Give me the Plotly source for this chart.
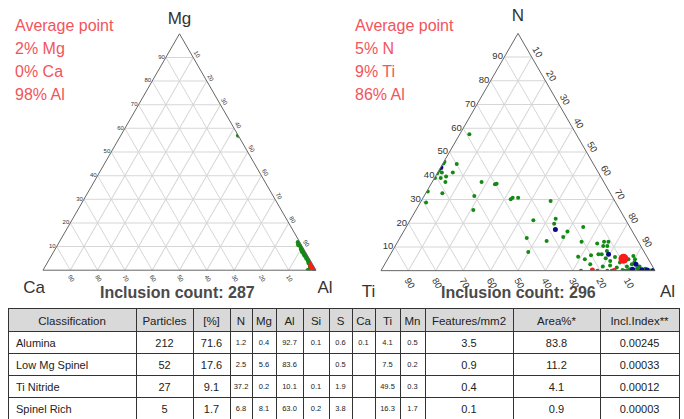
import plotly.graph_objects as go

# ---------------- data ----------------
# Left ternary: Mg (top) / Ca (bottom-left) / Al (bottom-right), in %
mg_green = [57, 12, 11.5, 11, 10.5, 10, 9.5, 9, 8.5, 8, 7.5, 7, 6.5, 6, 5.5, 5, 4.5, 4,
            3.5, 3, 2.5, 2, 1.5, 1, 0.5, 0, 0, 0, 0, 0.3, 11.8, 10.8, 9.2, 7.8, 6.2, 4.8, 3.2, 1.8]
ca_green = [0, 0, 0.5, 0.3, 0.8, 0.5, 0.2, 1, 0.5, 0.8, 0.3, 1, 0.5, 0.8, 0.4, 1, 0.6, 0.9,
            0.3, 1.2, 0.6, 1, 0.5, 1.5, 2, 3, 2.5, 2, 1, 0.2, 0.7, 1.1, 0.6, 1.2, 1.1, 0.4, 0.7, 1.3]
al_green = [100 - m - c for m, c in zip(mg_green, ca_green)]
mg_blue = [1, 0.5, 0, 1.5]
ca_blue = [0.5, 0.2, 0.5, 0.8]
al_blue = [100 - m - c for m, c in zip(mg_blue, ca_blue)]
avg1 = dict(Mg=2, Ca=0, Al=98)
count1 = 287

# Right ternary: N (top) / Ti (bottom-left) / Al (bottom-right), in %
n_green = [57.5, 45.9, 45.1, 44.9, 42.1, 41.4, 41.4, 41.0, 39.7, 39.0, 39.0, 37.4, 37.4, 36.4,
           36.6, 33.3, 32.6, 31.5, 30.1, 30.7, 30.7, 28.7, 29.4, 25.6, 21.2, 21.9, 19.8, 13.8,
           12.5, 7.9, 14.2, 16.5, 18.4, 12.2, 11.4, 12.2, 12.2, 10.4, 10.4, 6.9, 6.9, 6.5, 5.9,
           4.8, 2.7, 0, 0, 1.7, 5.2, 4.1, 5.8, 2.2, 0, 0, 1.7, 2.7, 4.8, 3.4, 1.7, 0.6, 0, 4.8,
           6.2, 3.4, 1.3, 8.3, 0.3, 0.2, 0.4, 0.1, 0.3, 0.5, 0.2, 0.1, 0.3, 0.4, 1.0, 0.8]
al_green_r = [3.5, 0.2, 0.2, 5.2, 0.1, 1.5, 5.5, 0.0, 3.9, 2.3, 0.2, 4.8, 18.0, 23.4, 23.9, 0.4,
              6.1, 18.3, 32.3, 32.7, 34.7, 2.1, 47.2, 20.9, 45.0, 52.8, 53.3, 46.3, 54.2, 49.8,
              59.4, 59.8, 64.6, 67.1, 73.2, 75.3, 76.9, 77.4, 75.9, 75.9, 77.1, 73.4, 69.0, 72.0,
              75.0, 73.0, 79.0, 80.1, 79.4, 81.6, 82.5, 82.5, 82.6, 84.2, 88.9, 90.2, 90.3, 90.8,
              93.5, 90.6, 89.0, 87.9, 89.0, 85.5, 85.4, 78.3, 88.0, 90.0, 92.0, 94.0, 95.5, 96.5,
              97.5, 98.5, 99.2, 91.0, 93.0, 96.0]
ti_green_r = [100 - n - a for n, a in zip(n_green, al_green_r)]
n_blue = [43.5, 17.3, 6.9, 2.7, 0.6, 0.3, 0.1, 0.4]
al_blue_r = [0.1, 55.0, 79.6, 91.7, 91.5, 97.0, 99.4, 95.0]
ti_blue_r = [100 - n - a for n, a in zip(n_blue, al_blue_r)]
n_red = [0.1, 0.3]
al_red = [85.0, 77.0]
ti_red = [100 - n - a for n, a in zip(n_red, al_red)]
avg2 = dict(N=5, Ti=9, Al=86)
count2 = 296

tick_vals = [10, 20, 30, 40, 50, 60, 70, 80, 90]

# Table
tbl_header = ["Classification", "Particles", "[%]", "N", "Mg", "Al", "Si", "S", "Ca", "Ti",
              "Mn", "Features/mm2", "Area%*", "Incl.Index**"]
classification = ["Alumina", "Low Mg Spinel", "Ti Nitride", "Spinel Rich"]
particles = ["212", "52", "27", "5"]
percent = ["71.6", "17.6", "9.1", "1.7"]
col_N = ["1.2", "2.5", "37.2", "6.8"]
col_Mg = ["0.4", "5.6", "0.2", "8.1"]
col_Al = ["92.7", "83.6", "10.1", "63.0"]
col_Si = ["0.1", "", "0.1", "0.2"]
col_S = ["0.6", "0.5", "1.9", "3.8"]
col_Ca = ["0.1", "", "", ""]
col_Ti = ["4.1", "7.5", "49.5", "16.3"]
col_Mn = ["0.5", "0.2", "0.3", "1.7"]
features = ["3.5", "0.9", "0.4", "0.1"]
area = ["83.8", "11.2", "4.1", "0.9"]
incl_index = ["0.00245", "0.00033", "0.00012", "0.00003"]

# ---------------- figure ----------------
W, H = 684, 419
GREEN = "#138a13"
BLUE = "#0a0a8c"
RED = "#ff1a1a"
TXT_RED = "#f2545b"

fig = go.Figure()

# Left ternary
fig.add_trace(go.Scatterternary(a=mg_green, b=ca_green, c=al_green, mode="markers",
                                marker=dict(color=GREEN, size=4.5), subplot="ternary",
                                showlegend=False, hoverinfo="skip"))
fig.add_trace(go.Scatterternary(a=mg_blue, b=ca_blue, c=al_blue, mode="markers",
                                marker=dict(color=BLUE, size=5), subplot="ternary",
                                showlegend=False, hoverinfo="skip"))
fig.add_trace(go.Scatterternary(a=[avg1["Mg"]], b=[avg1["Ca"]], c=[avg1["Al"]], mode="markers",
                                marker=dict(color=RED, size=10), subplot="ternary",
                                showlegend=False, hoverinfo="skip"))

# Right ternary
fig.add_trace(go.Scatterternary(a=n_green, b=ti_green_r, c=al_green_r, mode="markers",
                                marker=dict(color=GREEN, size=4), subplot="ternary2",
                                showlegend=False, hoverinfo="skip"))
fig.add_trace(go.Scatterternary(a=n_blue, b=ti_blue_r, c=al_blue_r, mode="markers",
                                marker=dict(color=BLUE, size=5), subplot="ternary2",
                                showlegend=False, hoverinfo="skip"))
fig.add_trace(go.Scatterternary(a=n_red, b=ti_red, c=al_red, mode="markers",
                                marker=dict(color=RED, size=5), subplot="ternary2",
                                showlegend=False, hoverinfo="skip"))
fig.add_trace(go.Scatterternary(a=[avg2["N"]], b=[avg2["Ti"]], c=[avg2["Al"]], mode="markers",
                                marker=dict(color=RED, size=10), subplot="ternary2",
                                showlegend=False, hoverinfo="skip"))

# Table
tbl_cols = [classification, particles, percent, col_N, col_Mg, col_Al, col_Si, col_S, col_Ca,
            col_Ti, col_Mn, features, area, incl_index]
col_widths = [128, 57, 37, 22, 24, 27, 26, 23, 23, 25, 25, 88, 87, 79]
body_sizes = [11, 11, 11] + [7.5] * 8 + [11, 11, 11]
fig.add_trace(go.Table(
    domain=dict(x=[8 / W, 679 / W], y=[0, 111 / H]),
    columnwidth=col_widths,
    header=dict(values=tbl_header, fill_color="#d9d9d9", line=dict(color="#333", width=1),
                font=dict(family="Liberation Sans, Arial", size=11.5, color="#222"),
                align="center", height=23),
    cells=dict(values=tbl_cols, fill_color="white", line=dict(color="#333", width=1),
               font=dict(family="Liberation Sans, Arial", size=body_sizes, color="#222"),
               align=["left"] + ["center"] * 13, height=22),
))


def tern_axis(title, tickangle, tsize):
    return dict(title=dict(text=title, font=dict(family="Liberation Sans, Arial", size=17,
                                                 color="#333")),
                min=0, showgrid=True, gridcolor="#d6d6d6", gridwidth=1,
                linecolor="#666", linewidth=1, ticks="", tickmode="array",
                tickvals=tick_vals, ticktext=[str(v) for v in tick_vals],
                tickangle=tickangle,
                tickfont=dict(family="Liberation Sans, Arial", size=tsize, color="#333"))


fig.update_layout(
    width=W, height=H, margin=dict(l=0, r=0, t=0, b=0),
    paper_bgcolor="white", font=dict(family="Liberation Sans, Arial"),
    ternary=dict(domain=dict(x=[43 / W, 316 / W], y=[1 - 300 / H, 1 - 4 / H]), sum=100,
                 bgcolor="white",
                 aaxis=tern_axis("Mg", 0, 6), baxis=tern_axis("Ca", 60, 6),
                 caxis=tern_axis("Al", 60, 6)),
    ternary2=dict(domain=dict(x=[381 / W, 655 / W], y=[1 - 300 / H, 1 - 4 / H]), sum=100,
                  bgcolor="white",
                  aaxis=tern_axis("N", 0, 9.5), baxis=tern_axis("Ti", 60, 9.5),
                  caxis=tern_axis("Al", 60, 9.5)),
)

ann = []
left_lines = ["Average point", f"{avg1['Mg']}% Mg", f"{avg1['Ca']}% Ca", f"{avg1['Al']}% Al"]
right_lines = ["Average point", f"{avg2['N']}% N", f"{avg2['Ti']}% Ti", f"{avg2['Al']}% Al"]
for i, (lt, rt) in enumerate(zip(left_lines, right_lines)):
    y = 1 - (26 + 22.7 * i) / H
    ann.append(dict(text=lt, x=13 / W, y=y, xref="paper", yref="paper", xanchor="left",
                    yanchor="middle", showarrow=False,
                    font=dict(family="Liberation Sans, Arial", size=16, color=TXT_RED)))
    ann.append(dict(text=rt, x=353 / W, y=y, xref="paper", yref="paper", xanchor="left",
                    yanchor="middle", showarrow=False,
                    font=dict(family="Liberation Sans, Arial", size=16, color=TXT_RED)))
for cx, cnt in [(177, count1), (518, count2)]:
    ann.append(dict(text=f"<b>Inclusion count: {cnt}</b>", x=cx / W, y=1 - 292 / H,
                    xref="paper", yref="paper", xanchor="center", yanchor="middle",
                    showarrow=False,
                    font=dict(family="Liberation Sans, Arial", size=16, color="#4a4a4a")))
fig.update_layout(annotations=ann)

fig.write_html("out.html", config={"displayModeBar": False},
               post_script="document.body.style.margin='0';document.body.style.overflow='hidden';")
